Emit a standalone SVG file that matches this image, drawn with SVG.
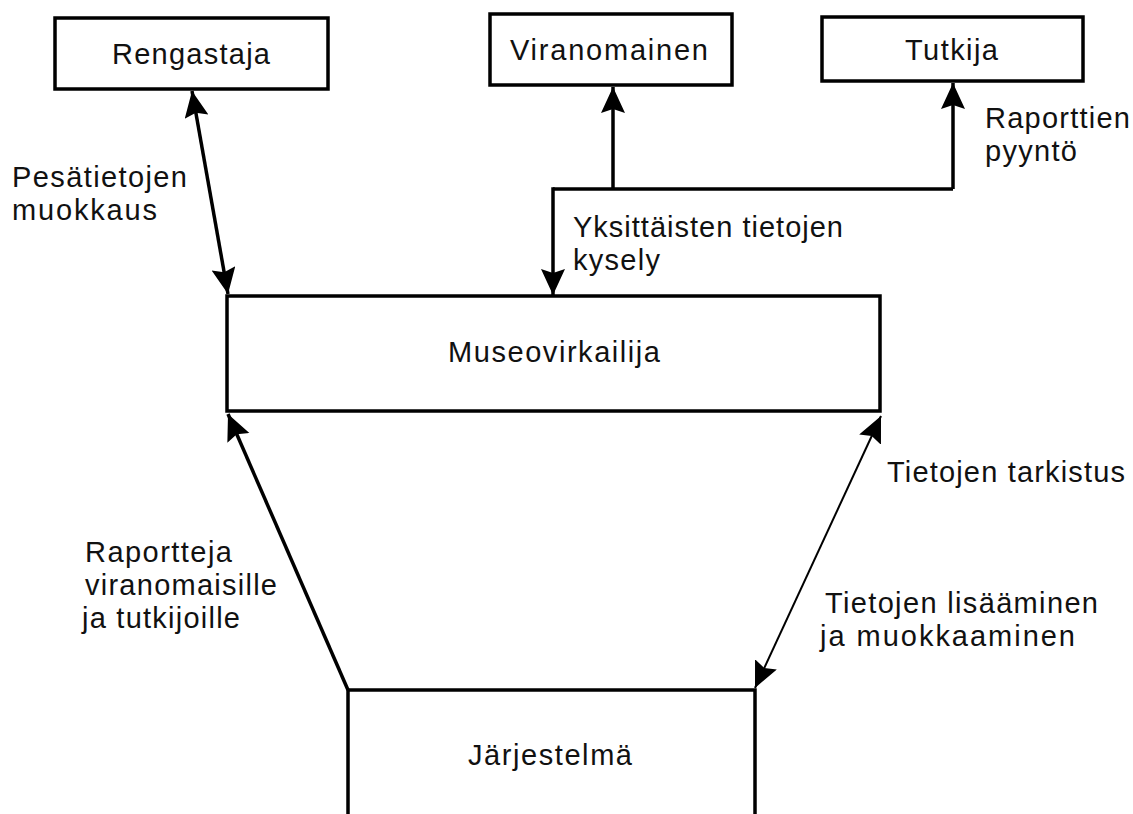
<svg xmlns="http://www.w3.org/2000/svg" width="1133" height="814" viewBox="0 0 1133 814">
<style>
.box{fill:#fff;stroke:#000;stroke-width:3.5}
.t{font-family:"Liberation Sans",Arial,sans-serif;font-size:29px;fill:#111}
.ln{fill:none;stroke:#000;stroke-width:3.5}
.thin{fill:none;stroke:#000;stroke-width:2}
</style>
<defs>
<marker id="ah" markerUnits="userSpaceOnUse" markerWidth="28" markerHeight="26" refX="26" refY="12" orient="auto-start-reverse" viewBox="0 0 28 26">
<path d="M0,0 L26,12 L0,24 L4,12 z" fill="#000"/>
</marker>
</defs>
<rect width="1133" height="814" fill="#fff"/>
<g id="rengastaja">
<rect class="box" x="55" y="18" width="273" height="71"/>
<text class="t" x="112" y="64" textLength="158" lengthAdjust="spacing">Rengastaja</text>
</g>
<g id="viranomainen">
<rect class="box" x="490" y="14" width="242" height="71"/>
<text class="t" x="510" y="60" textLength="198" lengthAdjust="spacing">Viranomainen</text>
</g>
<g id="tutkija">
<rect class="box" x="822" y="17" width="261" height="64"/>
<text class="t" x="905" y="60" textLength="93" lengthAdjust="spacing">Tutkija</text>
</g>
<g id="museovirkailija">
<rect class="box" x="227" y="296" width="653" height="115"/>
<text class="t" x="448" y="362" textLength="212" lengthAdjust="spacing">Museovirkailija</text>
</g>
<g id="jarjestelma">
<rect class="box" x="348" y="690" width="407" height="160"/>
<text class="t" x="468" y="765" textLength="164" lengthAdjust="spacing">Järjestelmä</text>
</g>
<g id="connectors">
<line class="ln" x1="192" y1="91" x2="228" y2="294" marker-start="url(#ah)" marker-end="url(#ah)"/>
<polyline class="ln" points="553,189 953,189"/>
<line class="ln" x1="613" y1="189" x2="613" y2="87" marker-end="url(#ah)"/>
<line class="ln" x1="953" y1="189" x2="953" y2="83" marker-end="url(#ah)"/>
<line class="ln" x1="553" y1="187.25" x2="553" y2="295" marker-end="url(#ah)"/>
<line class="ln" x1="348" y1="690" x2="228" y2="414" marker-end="url(#ah)"/>
<line class="thin" x1="755" y1="688" x2="881" y2="416" marker-start="url(#ah)" marker-end="url(#ah)"/>
</g>
<g id="labels">
<text class="t" x="12" y="187" textLength="175" lengthAdjust="spacing">Pesätietojen</text>
<text class="t" x="12" y="220" textLength="145" lengthAdjust="spacing">muokkaus</text>
<text class="t" x="573" y="237" textLength="270" lengthAdjust="spacing">Yksittäisten tietojen</text>
<text class="t" x="573" y="270" textLength="87" lengthAdjust="spacing">kysely</text>
<text class="t" x="985" y="128" textLength="145" lengthAdjust="spacing">Raporttien</text>
<text class="t" x="985" y="161" textLength="92" lengthAdjust="spacing">pyyntö</text>
<text class="t" x="887" y="482" textLength="238" lengthAdjust="spacing">Tietojen tarkistus</text>
<text class="t" x="825" y="613" textLength="273" lengthAdjust="spacing">Tietojen lisääminen</text>
<text class="t" x="820" y="646" textLength="255" lengthAdjust="spacing">ja muokkaaminen</text>
<text class="t" x="85" y="562" textLength="147" lengthAdjust="spacing">Raportteja</text>
<text class="t" x="85" y="595" textLength="192" lengthAdjust="spacing">viranomaisille</text>
<text class="t" x="82" y="628" textLength="158" lengthAdjust="spacing">ja tutkijoille</text>
</g>
</svg>
